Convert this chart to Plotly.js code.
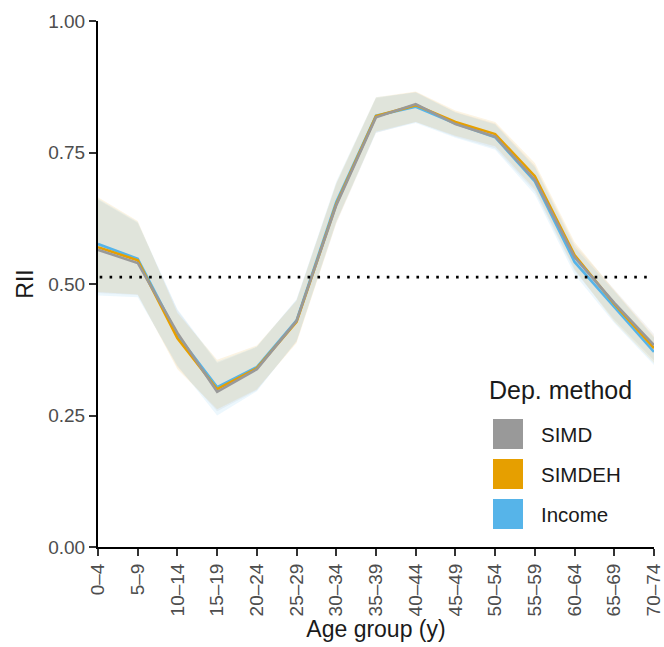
<!DOCTYPE html>
<html><head><meta charset="utf-8">
<script src="https://cdn.plot.ly/plotly-3.0.1.min.js"></script>
<style>html,body{margin:0;padding:0;background:#fff}#chart{width:664px;height:647px}</style>
</head><body><div id="chart"></div>
<script>
const ageGroups = ["0\u20134","5\u20139","10\u201314","15\u201319","20\u201324","25\u201329","30\u201334","35\u201339","40\u201344","45\u201349","50\u201354","55\u201359","60\u201364","65\u201369","70\u201374"];
const seriesNames = ["SIMD","SIMDEH","Income"];
const simd     = [0.565,0.540,0.407,0.295,0.338,0.430,0.650,0.817,0.842,0.804,0.780,0.698,0.551,0.464,0.384];
const simdeh   = [0.570,0.545,0.397,0.300,0.340,0.428,0.652,0.819,0.840,0.808,0.785,0.705,0.555,0.462,0.378];
const income   = [0.576,0.548,0.403,0.304,0.342,0.431,0.656,0.820,0.837,0.805,0.779,0.695,0.542,0.457,0.371];
const simdLo   = [0.483,0.479,0.342,0.258,0.298,0.390,0.615,0.787,0.808,0.780,0.758,0.676,0.525,0.432,0.355];
const simdHi   = [0.660,0.616,0.450,0.350,0.380,0.470,0.690,0.853,0.865,0.827,0.805,0.725,0.575,0.490,0.405];
const simdehLo = [0.485,0.480,0.338,0.262,0.300,0.388,0.617,0.790,0.808,0.782,0.762,0.680,0.528,0.428,0.350];
const simdehHi = [0.665,0.620,0.445,0.356,0.383,0.468,0.692,0.855,0.866,0.830,0.808,0.730,0.580,0.488,0.400];
const incomeLo = [0.478,0.475,0.345,0.250,0.296,0.392,0.620,0.788,0.806,0.778,0.755,0.670,0.518,0.426,0.346];
const incomeHi = [0.662,0.618,0.452,0.352,0.381,0.471,0.695,0.855,0.864,0.826,0.803,0.722,0.570,0.486,0.398];
const refLine = 0.513;
const yTicks = [0,0.25,0.5,0.75,1];
const yTickText = ["0.00","0.25","0.50","0.75","1.00"];

const FONT = "Liberation Sans, Arial, sans-serif";
const colors = {SIMD:"#999999", SIMDEH:"#E69F00", Income:"#56B4E9"};
const fills = {SIMD:"rgba(153,153,153,0.11)", SIMDEH:"rgba(230,159,0,0.11)", Income:"rgba(86,180,233,0.11)"};
const data = {SIMD:[simd,simdLo,simdHi], SIMDEH:[simdeh,simdehLo,simdehHi], Income:[income,incomeLo,incomeHi]};

const traces = [];
["SIMD","SIMDEH","Income"].forEach(n => {
  traces.push({x:ageGroups, y:data[n][1], type:"scatter", mode:"lines", line:{width:0,color:fills[n]}, showlegend:false, hoverinfo:"skip"});
  traces.push({x:ageGroups, y:data[n][2], type:"scatter", mode:"lines", line:{width:0,color:fills[n]}, fill:"tonexty", fillcolor:fills[n], showlegend:false, hoverinfo:"skip"});
});
["Income","SIMDEH","SIMD"].forEach(n => {
  traces.push({x:ageGroups, y:data[n][0], type:"scatter", mode:"lines", name:n, line:{width:2.6,color:colors[n]}, showlegend:false});
});

const px = v => (v-98)/556;
const py = v => (547-v)/526;
const shapes = [{type:"line", xref:"paper", yref:"y", x0:0.003, x1:0.997, y0:refLine, y1:refLine, line:{color:"#000", width:2.6, dash:"2.6px,7.3px"}}];
const annotations = [{xref:"paper", yref:"paper", x:px(487), y:py(390), xanchor:"left", yanchor:"middle", text:"Dep. method", showarrow:false, font:{size:25, color:"#1a1a1a", family:FONT}}];
const legY = [434, 474, 514];
seriesNames.forEach((n,i) => {
  shapes.push({type:"rect", xref:"paper", yref:"paper", x0:px(493), x1:px(523), y0:py(legY[i]-15), y1:py(legY[i]+15), fillcolor:colors[n], line:{width:0}});
  annotations.push({xref:"paper", yref:"paper", x:px(539), y:py(legY[i]), xanchor:"left", yanchor:"middle", text:n, showarrow:false, font:{size:20.5, color:"#1a1a1a", family:FONT}});
});

const layout = {
  width:664, height:647,
  margin:{l:98, r:10, t:21, b:100},
  paper_bgcolor:"#fff", plot_bgcolor:"#fff",
  font:{family:FONT, color:"#4d4d4d"},
  showlegend:false,
  xaxis:{type:"category", range:[0,14], showgrid:false, zeroline:false, showline:true, linecolor:"#000", linewidth:2,
    ticks:"outside", ticklen:7, tickwidth:2, tickcolor:"#333", tickangle:-90, tickfont:{size:19, color:"#4d4d4d"},
    title:{text:"Age group (y)", font:{size:23, color:"#1a1a1a"}, standoff:4}},
  yaxis:{range:[0,1], tickvals:yTicks, ticktext:yTickText, showgrid:false, zeroline:false, showline:true, linecolor:"#000", linewidth:2,
    ticks:"outside", ticklen:7, tickwidth:2, tickcolor:"#333", tickfont:{size:19, color:"#4d4d4d"},
    title:{text:"RII", font:{size:23, color:"#1a1a1a"}, standoff:8}},
  shapes, annotations
};
Plotly.newPlot("chart", traces, layout, {displayModeBar:false, staticPlot:true});
</script></body></html>
